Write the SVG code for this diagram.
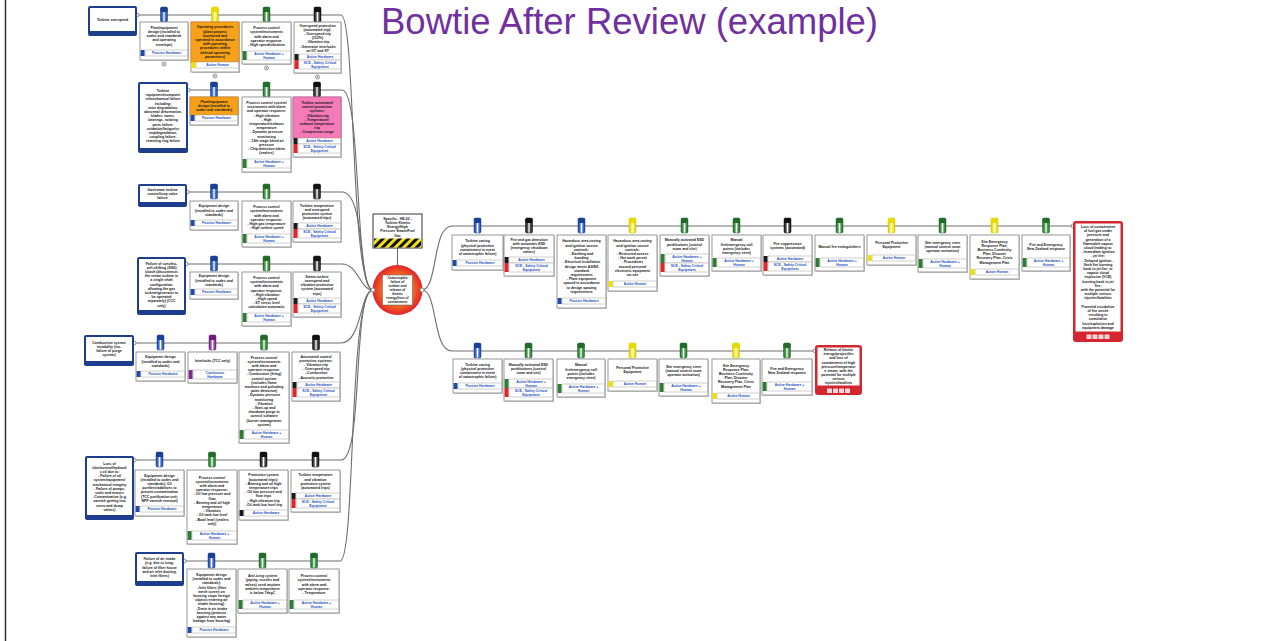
<svg xmlns="http://www.w3.org/2000/svg" width="1271" height="641" viewBox="0 0 1271 641">
<style>
.bx{fill:#fff;stroke:#7d7d7d;stroke-width:.8}
.sh{fill:#d2d2d2}
.cell{fill:#fff;stroke:#a0a0a0;stroke-width:.5}
.t{font-family:"Liberation Sans",Arial,sans-serif;font-size:3.5px;font-weight:bold;fill:#141414;text-anchor:middle}
.lb{font-family:"Liberation Sans",Arial,sans-serif;font-size:3.4px;font-weight:bold;fill:#1d4fc0;text-anchor:middle}
.ln{fill:none;stroke:#6e6e6e;stroke-width:1.1}
.thr{fill:#1d3d8f}
.in{fill:#fff}
.con{fill:#d3262f}
.sqP{fill:#1f4aa8}.sqK{fill:#1a1a1a}.sqG{fill:#2f7d35}.sqY{fill:#efe000}.sqR{fill:#e3242b}.sqV{fill:#7d2a8c}
.org{fill:#f7a11a;stroke:#e27c00;stroke-width:.6}
.pnk{fill:#f47ab8;stroke:#d94a98;stroke-width:.6}
.exp{fill:#fff;stroke:#555;stroke-width:.6}
.title{font-family:"Liberation Sans",Arial,sans-serif;font-size:36.5px;fill:#7030a0}
</style>
<defs>
<linearGradient id="gB" x1="0" x2="1" y1="0" y2="0"><stop offset="0" stop-color="#1b3f95"/><stop offset=".3" stop-color="#4a78d4"/><stop offset=".5" stop-color="#fff"/><stop offset=".7" stop-color="#4a78d4"/><stop offset="1" stop-color="#1b3f95"/></linearGradient>
<linearGradient id="gK" x1="0" x2="1" y1="0" y2="0"><stop offset="0" stop-color="#111"/><stop offset=".3" stop-color="#555"/><stop offset=".5" stop-color="#fff"/><stop offset=".7" stop-color="#555"/><stop offset="1" stop-color="#111"/></linearGradient>
<linearGradient id="gG" x1="0" x2="1" y1="0" y2="0"><stop offset="0" stop-color="#236b2a"/><stop offset=".3" stop-color="#4fa055"/><stop offset=".5" stop-color="#fff"/><stop offset=".7" stop-color="#4fa055"/><stop offset="1" stop-color="#236b2a"/></linearGradient>
<linearGradient id="gY" x1="0" x2="1" y1="0" y2="0"><stop offset="0" stop-color="#d8cc00"/><stop offset=".3" stop-color="#f5ec40"/><stop offset=".5" stop-color="#fffbd0"/><stop offset=".7" stop-color="#f5ec40"/><stop offset="1" stop-color="#d8cc00"/></linearGradient>
<linearGradient id="gV" x1="0" x2="1" y1="0" y2="0"><stop offset="0" stop-color="#6a1f7a"/><stop offset=".3" stop-color="#a855b8"/><stop offset=".5" stop-color="#fff"/><stop offset=".7" stop-color="#a855b8"/><stop offset="1" stop-color="#6a1f7a"/></linearGradient>
<radialGradient id="tev" cx=".5" cy=".5" r=".5"><stop offset="0" stop-color="#ffb040"/><stop offset=".55" stop-color="#f47a22"/><stop offset="1" stop-color="#e3222a"/></radialGradient>
<pattern id="haz" width="6" height="6" patternUnits="userSpaceOnUse" patternTransform="rotate(45)"><rect width="6" height="6" fill="#f3e01c"/><rect width="3" height="6" fill="#111"/></pattern>
<g id="tB"><rect x="-3.5" y="-8" width="7" height="15" rx="1.5" fill="url(#gB)" stroke="#1b3f95" stroke-width=".5"/><rect x="-3.5" y="-8" width="7" height="5" rx="1.5" fill="#1b3f95"/></g>
<g id="tK"><rect x="-3.5" y="-8" width="7" height="15" rx="1.5" fill="url(#gK)" stroke="#111" stroke-width=".5"/><rect x="-3.5" y="-8" width="7" height="5" rx="1.5" fill="#111"/></g>
<g id="tG"><rect x="-3.5" y="-8" width="7" height="15" rx="1.5" fill="url(#gG)" stroke="#236b2a" stroke-width=".5"/><rect x="-3.5" y="-8" width="7" height="5" rx="1.5" fill="#236b2a"/></g>
<g id="tY"><rect x="-3.5" y="-8" width="7" height="15" rx="1.5" fill="url(#gY)" stroke="#c8bc00" stroke-width=".5"/><rect x="-3.5" y="-8" width="7" height="5" rx="1.5" fill="#e6da00"/></g>
<g id="tV"><rect x="-3.5" y="-8" width="7" height="15" rx="1.5" fill="url(#gV)" stroke="#6a1f7a" stroke-width=".5"/><rect x="-3.5" y="-8" width="7" height="5" rx="1.5" fill="#6a1f7a"/></g>
<circle id="dot" r="2" fill="#fff" stroke="#777" stroke-width=".8"/>
</defs>
<rect width="1271" height="641" fill="#fff"/>
<line x1="5.5" y1="0" x2="5.5" y2="641" stroke="#333" stroke-width="1.5"/>
<text class="title" x="381" y="34">Bowtie After Review (example)</text>

<g id="connectors">
<path class="ln" d="M137,15 H341 C356,15 350,290 373,290"/>
<path class="ln" d="M188,90 H342 C362,90 354,290 373,290"/>
<path class="ln" d="M187,192 H342 C366,192 358,290 373,290"/>
<path class="ln" d="M186,264 H342 C358,264 360,290 373,290"/>
<path class="ln" d="M134,343 H341 C362,343 360,290 373,290"/>
<path class="ln" d="M134,460 H341 C364,460 352,290 373,290"/>
<path class="ln" d="M184,561 H340 C356,561 348,290 373,290"/>
<path class="ln" d="M422,290 C438,290 432,226 452,226 H1073"/>
<path class="ln" d="M422,290 C438,290 432,351 452,351 H815"/>
<path class="ln" d="M397.5,248 V266"/>
<use href="#dot" x="137" y="15"/><use href="#dot" x="188" y="90"/><use href="#dot" x="187" y="192"/><use href="#dot" x="186" y="264"/><use href="#dot" x="134" y="343"/><use href="#dot" x="134" y="460"/><use href="#dot" x="184" y="561"/>
<use href="#dot" x="1073" y="226"/><use href="#dot" x="815" y="351"/>
</g>

<!-- Hazard -->
<g id="hazard">
<rect x="373" y="214" width="49" height="34" fill="#fff" stroke="#333" stroke-width="1"/>
<rect x="374" y="238.5" width="47" height="9" fill="url(#haz)"/>
<text class="t" y="219.7"><tspan x="397.5">Specific - HE-02 -</tspan><tspan x="397.5" dy="4.2">Turbine Kinetic</tspan><tspan x="397.5" dy="4.2">Energy/High</tspan><tspan x="397.5" dy="4.2">Pressure Steam/Fuel</tspan><tspan x="397.5" dy="4.2">Gas</tspan></text>
</g>

<!-- Top event -->
<g id="topevent">
<circle cx="397.5" cy="290" r="25" fill="url(#tev)"/>
<rect x="382.5" y="275" width="30" height="30" fill="#fff" stroke="#555" stroke-width=".5"/>
<text class="t" y="279.4" style="font-size:3.3px"><tspan x="397.5">Catastrophic</tspan><tspan x="397.5" dy="3.9">failure of</tspan><tspan x="397.5" dy="3.9">turbine and</tspan><tspan x="397.5" dy="3.9">release of</tspan><tspan x="397.5" dy="3.9">kinetic</tspan><tspan x="397.5" dy="3.9">energy/loss of</tspan><tspan x="397.5" dy="3.9">containment</tspan></text>
<use href="#dot" x="373" y="290"/><use href="#dot" x="422" y="290"/>
</g>

<!-- ===== Row 1 ===== -->
<g id="t1">
<rect class="thr" x="88" y="6" width="49" height="30" rx="2"/><rect class="in" x="90" y="8" width="45" height="23"/>
<text class="t" x="112.5" y="20.6">Turbine overspeed</text>
</g>
<g id="b1-1">
<use href="#tB" x="164" y="15"/>
<rect class="sh" x="141" y="23" width="48" height="38"/><rect class="bx" x="140" y="22" width="48" height="38"/>
<text class="t" y="28.7"><tspan x="164">Plant/equipment</tspan><tspan x="164" dy="4.2">design (installed to</tspan><tspan x="164" dy="4.2">codes and standards</tspan><tspan x="164" dy="4.2">and operating</tspan><tspan x="164" dy="4.2">envelope)</tspan></text>
<rect class="sqP" x="140.6" y="50" width="4" height="6"/><rect class="cell" x="145" y="50" width="42.4" height="6"/><text class="lb" x="166.5" y="54.3">Passive Hardware</text>
<circle class="exp" cx="164" cy="64" r="2"/><circle cx="164" cy="64" r=".7" fill="#555"/>
</g>
<g id="b1-2">
<use href="#tY" x="215" y="15"/>
<rect class="sh" x="192" y="23" width="48" height="50"/><rect class="bx" x="191" y="22" width="48" height="50"/>
<rect class="org" x="191" y="22" width="48" height="40"/>
<text class="t" y="28.4"><tspan x="215">Operating procedures</tspan><tspan x="215" dy="4.2">(plant process</tspan><tspan x="215" dy="4.2">monitored and</tspan><tspan x="215" dy="4.2">operated in accordance</tspan><tspan x="215" dy="4.2">with operating</tspan><tspan x="215" dy="4.2">procedures within</tspan><tspan x="215" dy="4.2">defined operating</tspan><tspan x="215" dy="4.2">parameters)</tspan></text>
<rect class="sqY" x="191.6" y="62" width="4" height="6"/><rect class="cell" x="196" y="62" width="42.4" height="6"/><text class="lb" x="217.5" y="66.3">Active Human</text>
<circle class="exp" cx="215" cy="76" r="2"/><circle cx="215" cy="76" r=".7" fill="#555"/>
</g>
<g id="b1-3">
<use href="#tG" x="266.5" y="15"/>
<rect class="sh" x="243" y="23" width="49" height="42"/><rect class="bx" x="242" y="22" width="49" height="42"/>
<text class="t" y="29.2"><tspan x="266.5">Process control</tspan><tspan x="266.5" dy="4.2">system/instruments</tspan><tspan x="266.5" dy="4.2">with alarm and</tspan><tspan x="266.5" dy="4.2">operator response:</tspan><tspan x="266.5" dy="4.2">- High speed/vibration</tspan></text>
<rect class="sqG" x="242.6" y="51" width="4" height="9"/><rect class="cell" x="247" y="51" width="43.4" height="9"/><text class="lb" y="54.9"><tspan x="269">Active Hardware +</tspan><tspan x="269" dy="4">Human</tspan></text>
<circle class="exp" cx="266.5" cy="68" r="2"/><circle cx="266.5" cy="68" r=".7" fill="#555"/>
</g>
<g id="b1-4">
<use href="#tK" x="317.5" y="15"/>
<rect class="sh" x="295" y="23" width="47" height="51"/><rect class="bx" x="294" y="22" width="47" height="51"/>
<text class="t" y="26.5"><tspan x="317.5">Overspeed protection</tspan><tspan x="317.5" dy="4.2">(automated trip):</tspan><tspan x="317.5" dy="4.2">- Overspeed trip</tspan><tspan x="317.5" dy="4.2">(112%)</tspan><tspan x="317.5" dy="4.2">- Vibration trip</tspan><tspan x="317.5" dy="4.2">- Generator interlocks</tspan><tspan x="317.5" dy="4.2">on GT and ST</tspan></text>
<rect class="sqK" x="294.6" y="54" width="4" height="6"/><rect class="cell" x="299" y="54" width="41.4" height="6"/><text class="lb" x="320" y="58.3">Active Hardware</text>
<rect class="sqR" x="294.6" y="60" width="4" height="9"/><rect class="cell" x="299" y="60" width="41.4" height="9"/><text class="lb" y="63.9"><tspan x="320">SCE - Safety Critical</tspan><tspan x="320" dy="4">Equipment</tspan></text>
<circle class="exp" cx="317.5" cy="77" r="2"/><circle cx="317.5" cy="77" r=".7" fill="#555"/>
</g>

<!-- ===== Row 2 ===== -->
<g id="t2">
<rect class="thr" x="138" y="82" width="50" height="71" rx="2"/><rect class="in" x="140" y="84" width="46" height="64"/>
<text class="t" y="91.9"><tspan x="163">Turbine</tspan><tspan x="163" dy="4.2">equipment/compone</tspan><tspan x="163" dy="4.2">nt/mechanical failure</tspan><tspan x="163" dy="4.2">including:</tspan><tspan x="163" dy="4.2">rotor degradation,</tspan><tspan x="163" dy="4.2">abnormal deformation,</tspan><tspan x="163" dy="4.2">blades, vanes,</tspan><tspan x="163" dy="4.2">bearings, rotating</tspan><tspan x="163" dy="4.2">parts failure,</tspan><tspan x="163" dy="4.2">oxidation/fatigue/cr</tspan><tspan x="163" dy="4.2">eep/degradation,</tspan><tspan x="163" dy="4.2">coupling failure,</tspan><tspan x="163" dy="4.2">retaining ring failure</tspan></text>
</g>
<g id="b2-1">
<use href="#tB" x="214" y="90"/>
<rect class="sh" x="191" y="98" width="48" height="28"/><rect class="bx" x="190" y="97" width="48" height="28"/>
<rect class="org" x="190" y="97" width="48" height="18"/>
<text class="t" y="102.9"><tspan x="214">Plant/equipment</tspan><tspan x="214" dy="4.2">design (installed to</tspan><tspan x="214" dy="4.2">codes and standards)</tspan></text>
<rect class="sqP" x="190.6" y="115" width="4" height="6"/><rect class="cell" x="195" y="115" width="42.4" height="6"/><text class="lb" x="216.5" y="119.3">Passive Hardware</text>
</g>
<g id="b2-2">
<use href="#tG" x="266.5" y="90"/>
<rect class="sh" x="243" y="98" width="49" height="75"/><rect class="bx" x="242" y="97" width="49" height="75"/>
<text class="t" y="103.9"><tspan x="266.5">Process control system/</tspan><tspan x="266.5" dy="4.2">instruments with alarm</tspan><tspan x="266.5" dy="4.2">and operator response:</tspan><tspan x="266.5" dy="4.2">- High vibration</tspan><tspan x="266.5" dy="4.2">- High</tspan><tspan x="266.5" dy="4.2">temperature/exhaust</tspan><tspan x="266.5" dy="4.2">temperature</tspan><tspan x="266.5" dy="4.2">- Dynamic pressure</tspan><tspan x="266.5" dy="4.2">monitoring</tspan><tspan x="266.5" dy="4.2">- 13th stage bleed air</tspan><tspan x="266.5" dy="4.2">pressure</tspan><tspan x="266.5" dy="4.2">- Chip detection alarm</tspan><tspan x="266.5" dy="4.2">(sealers)</tspan></text>
<rect class="sqG" x="242.6" y="159" width="4" height="9"/><rect class="cell" x="247" y="159" width="43.4" height="9"/><text class="lb" y="162.9"><tspan x="269">Active Hardware +</tspan><tspan x="269" dy="4">Human</tspan></text>
</g>
<g id="b2-3">
<use href="#tK" x="317" y="90"/>
<rect class="sh" x="294" y="98" width="48" height="60"/><rect class="bx" x="293" y="97" width="48" height="60"/>
<rect class="pnk" x="293" y="97" width="48" height="41"/>
<text class="t" y="103.9"><tspan x="317">Turbine automated</tspan><tspan x="317" dy="4.2">control protection</tspan><tspan x="317" dy="4.2">systems:</tspan><tspan x="317" dy="4.2">- Vibration trip</tspan><tspan x="317" dy="4.2">- Temperature/</tspan><tspan x="317" dy="4.2">exhaust temperature</tspan><tspan x="317" dy="4.2">trip</tspan><tspan x="317" dy="4.2">- Compressor surge</tspan></text>
<rect class="sqK" x="293.6" y="138" width="4" height="6"/><rect class="cell" x="298" y="138" width="42.4" height="6"/><text class="lb" x="319.5" y="142.3">Active Hardware</text>
<rect class="sqR" x="293.6" y="144" width="4" height="9"/><rect class="cell" x="298" y="144" width="42.4" height="9"/><text class="lb" y="147.9"><tspan x="319.5">SCE - Safety Critical</tspan><tspan x="319.5" dy="4">Equipment</tspan></text>
</g>

<!-- ===== Row 3 ===== -->
<g id="t3">
<rect class="thr" x="138" y="184" width="49" height="23" rx="2"/><rect class="in" x="140" y="186" width="45" height="16"/>
<text class="t" y="190.9"><tspan x="162.5">Gas/steam turbine</tspan><tspan x="162.5" dy="4.2">control/stop valve</tspan><tspan x="162.5" dy="4.2">failure</tspan></text>
</g>
<g id="b3-1">
<use href="#tB" x="214" y="192"/>
<rect class="sh" x="191" y="202" width="48" height="29"/><rect class="bx" x="190" y="201" width="48" height="29"/>
<text class="t" y="207.4"><tspan x="214">Equipment design</tspan><tspan x="214" dy="4.2">(installed to codes and</tspan><tspan x="214" dy="4.2">standards)</tspan></text>
<rect class="sqP" x="190.6" y="220" width="4" height="6"/><rect class="cell" x="195" y="220" width="42.4" height="6"/><text class="lb" x="216.5" y="224.3">Passive Hardware</text>
</g>
<g id="b3-2">
<use href="#tG" x="266.5" y="192"/>
<rect class="sh" x="243" y="202" width="49" height="46"/><rect class="bx" x="242" y="201" width="49" height="46"/>
<text class="t" y="208.1"><tspan x="266.5">Process control</tspan><tspan x="266.5" dy="4.2">system/instruments</tspan><tspan x="266.5" dy="4.2">with alarm and</tspan><tspan x="266.5" dy="4.2">operator response:</tspan><tspan x="266.5" dy="4.2">- High gas temperature</tspan><tspan x="266.5" dy="4.2">- High turbine speed</tspan></text>
<rect class="sqG" x="242.6" y="234" width="4" height="9"/><rect class="cell" x="247" y="234" width="43.4" height="9"/><text class="lb" y="237.9"><tspan x="269">Active Hardware +</tspan><tspan x="269" dy="4">Human</tspan></text>
</g>
<g id="b3-3">
<use href="#tK" x="317" y="192"/>
<rect class="sh" x="294" y="202" width="48" height="41"/><rect class="bx" x="293" y="201" width="48" height="41"/>
<text class="t" y="206.8"><tspan x="317">Turbine temperature</tspan><tspan x="317" dy="4.2">and overspeed</tspan><tspan x="317" dy="4.2">protection system</tspan><tspan x="317" dy="4.2">(automated trips)</tspan></text>
<rect class="sqK" x="293.6" y="223" width="4" height="6"/><rect class="cell" x="298" y="223" width="42.4" height="6"/><text class="lb" x="319.5" y="227.3">Active Hardware</text>
<rect class="sqR" x="293.6" y="229" width="4" height="9"/><rect class="cell" x="298" y="229" width="42.4" height="9"/><text class="lb" y="232.9"><tspan x="319.5">SCE - Safety Critical</tspan><tspan x="319.5" dy="4">Equipment</tspan></text>
</g>

<!-- ===== Row 4 ===== -->
<g id="t4">
<rect class="thr" x="137" y="257" width="49" height="58" rx="2"/><rect class="in" x="139" y="259" width="45" height="51"/>
<text class="t" y="264.6"><tspan x="161.5">Failure of synchro-</tspan><tspan x="161.5" dy="4.2">self-shifting (SSS)</tspan><tspan x="161.5" dy="4.2">clutch (disconnects</tspan><tspan x="161.5" dy="4.2">the steam turbine in</tspan><tspan x="161.5" dy="4.2">a single shaft</tspan><tspan x="161.5" dy="4.2">configuration,</tspan><tspan x="161.5" dy="4.2">allowing the gas</tspan><tspan x="161.5" dy="4.2">turbine/generator to</tspan><tspan x="161.5" dy="4.2">be operated</tspan><tspan x="161.5" dy="4.2">separately) (CCC</tspan><tspan x="161.5" dy="4.2">only)</tspan></text>
</g>
<g id="b4-1">
<use href="#tB" x="214" y="264"/>
<rect class="sh" x="191" y="273" width="48" height="27"/><rect class="bx" x="190" y="272" width="48" height="27"/>
<text class="t" y="277.4"><tspan x="214">Equipment design</tspan><tspan x="214" dy="4.2">(installed to codes and</tspan><tspan x="214" dy="4.2">standards)</tspan></text>
<rect class="sqP" x="190.6" y="289" width="4" height="6"/><rect class="cell" x="195" y="289" width="42.4" height="6"/><text class="lb" x="216.5" y="293.3">Passive Hardware</text>
</g>
<g id="b4-2">
<use href="#tG" x="266.5" y="264"/>
<rect class="sh" x="243" y="273" width="49" height="54"/><rect class="bx" x="242" y="272" width="49" height="54"/>
<text class="t" y="278.9"><tspan x="266.5">Process control</tspan><tspan x="266.5" dy="4.2">system/instruments</tspan><tspan x="266.5" dy="4.2">with alarm and</tspan><tspan x="266.5" dy="4.2">operator response:</tspan><tspan x="266.5" dy="4.2">- High vibration</tspan><tspan x="266.5" dy="4.2">- High speed</tspan><tspan x="266.5" dy="4.2">- ST stress level</tspan><tspan x="266.5" dy="4.2">calculation automatic</tspan></text>
<rect class="sqG" x="242.6" y="313" width="4" height="9"/><rect class="cell" x="247" y="313" width="43.4" height="9"/><text class="lb" y="316.9"><tspan x="269">Active Hardware +</tspan><tspan x="269" dy="4">Human</tspan></text>
</g>
<g id="b4-3">
<use href="#tK" x="317" y="264"/>
<rect class="sh" x="294" y="273" width="48" height="45"/><rect class="bx" x="293" y="272" width="48" height="45"/>
<text class="t" y="277.7"><tspan x="317">Steam turbine</tspan><tspan x="317" dy="4.2">overspeed and</tspan><tspan x="317" dy="4.2">vibration protection</tspan><tspan x="317" dy="4.2">system (automated</tspan><tspan x="317" dy="4.2">trips)</tspan></text>
<rect class="sqK" x="293.6" y="298" width="4" height="6"/><rect class="cell" x="298" y="298" width="42.4" height="6"/><text class="lb" x="319.5" y="302.3">Active Hardware</text>
<rect class="sqR" x="293.6" y="304" width="4" height="9"/><rect class="cell" x="298" y="304" width="42.4" height="9"/><text class="lb" y="307.9"><tspan x="319.5">SCE - Safety Critical</tspan><tspan x="319.5" dy="4">Equipment</tspan></text>
</g>

<!-- ===== Row 5 ===== -->
<g id="t5">
<rect class="thr" x="84" y="335" width="50" height="31" rx="2"/><rect class="in" x="86" y="337" width="46" height="24"/>
<text class="t" y="343.8"><tspan x="109">Combustion system</tspan><tspan x="109" dy="4.2">instability (inc.</tspan><tspan x="109" dy="4.2">failure of purge</tspan><tspan x="109" dy="4.2">system)</tspan></text>
</g>
<g id="b5-1">
<use href="#tB" x="160.5" y="343"/>
<rect class="sh" x="137" y="353" width="49" height="29"/><rect class="bx" x="136" y="352" width="49" height="29"/>
<text class="t" y="358.4"><tspan x="160.5">Equipment design</tspan><tspan x="160.5" dy="4.2">(installed to codes and</tspan><tspan x="160.5" dy="4.2">standards)</tspan></text>
<rect class="sqP" x="136.6" y="371" width="4" height="6"/><rect class="cell" x="141" y="371" width="43.4" height="6"/><text class="lb" x="163" y="375.3">Passive Hardware</text>
</g>
<g id="b5-2">
<use href="#tV" x="212.5" y="343"/>
<rect class="sh" x="189" y="353" width="49" height="31"/><rect class="bx" x="188" y="352" width="49" height="31"/>
<text class="t" x="212.5" y="362.1">Interlocks (TCC only)</text>
<rect class="sqV" x="188.6" y="370" width="4" height="9"/><rect class="cell" x="193" y="370" width="43.4" height="9"/><text class="lb" y="373.9"><tspan x="215">Continuous</tspan><tspan x="215" dy="4">Hardware</tspan></text>
</g>
<g id="b5-3">
<use href="#tG" x="264" y="343"/>
<rect class="sh" x="240" y="353" width="50" height="91"/><rect class="bx" x="239" y="352" width="50" height="91"/>
<text class="t" y="358.5"><tspan x="264">Process control</tspan><tspan x="264" dy="4.2">system/instruments</tspan><tspan x="264" dy="4.2">with alarm and</tspan><tspan x="264" dy="4.2">operator response:</tspan><tspan x="264" dy="4.2">- Combustion (firing)</tspan><tspan x="264" dy="4.2">control system</tspan><tspan x="264" dy="4.2">(includes flame</tspan><tspan x="264" dy="4.2">monitors and pulsating</tspan><tspan x="264" dy="4.2">point detection)</tspan><tspan x="264" dy="4.2">- Dynamic pressure</tspan><tspan x="264" dy="4.2">monitoring</tspan><tspan x="264" dy="4.2">- Vibration</tspan><tspan x="264" dy="4.2">- Start-up and</tspan><tspan x="264" dy="4.2">shutdown purge to</tspan><tspan x="264" dy="4.2">control software</tspan><tspan x="264" dy="4.2">(burner management</tspan><tspan x="264" dy="4.2">system)</tspan></text>
<rect class="sqG" x="239.6" y="430" width="4" height="9"/><rect class="cell" x="244" y="430" width="44.4" height="9"/><text class="lb" y="433.9"><tspan x="266.5">Active Hardware +</tspan><tspan x="266.5" dy="4">Human</tspan></text>
</g>
<g id="b5-4">
<use href="#tK" x="316" y="343"/>
<rect class="sh" x="293" y="353" width="48" height="49"/><rect class="bx" x="292" y="352" width="48" height="49"/>
<text class="t" y="357.6"><tspan x="316">Automated control</tspan><tspan x="316" dy="4.2">protection systems:</tspan><tspan x="316" dy="4.2">- Vibration trip</tspan><tspan x="316" dy="4.2">- Overspeed trip</tspan><tspan x="316" dy="4.2">- Combustion</tspan><tspan x="316" dy="4.2">- Acoustic protection</tspan></text>
<rect class="sqK" x="292.6" y="382" width="4" height="6"/><rect class="cell" x="297" y="382" width="42.4" height="6"/><text class="lb" x="318.5" y="386.3">Active Hardware</text>
<rect class="sqR" x="292.6" y="388" width="4" height="9"/><rect class="cell" x="297" y="388" width="42.4" height="9"/><text class="lb" y="391.9"><tspan x="318.5">SCE - Safety Critical</tspan><tspan x="318.5" dy="4">Equipment</tspan></text>
</g>

<!-- ===== Row 6 ===== -->
<g id="t6">
<rect class="thr" x="85" y="456" width="49" height="64" rx="2"/><rect class="in" x="87" y="458" width="45" height="57"/>
<text class="t" y="464.5"><tspan x="109.5">Loss of</tspan><tspan x="109.5" dy="4.2">lube/control/hydrauli</tspan><tspan x="109.5" dy="4.2">c oil due to:</tspan><tspan x="109.5" dy="4.2">- Failure of oil</tspan><tspan x="109.5" dy="4.2">system/equipment/</tspan><tspan x="109.5" dy="4.2">mechanical integrity</tspan><tspan x="109.5" dy="4.2">- Failure of pumps,</tspan><tspan x="109.5" dy="4.2">seals and motors</tspan><tspan x="109.5" dy="4.2">- Contamination (e.g.</tspan><tspan x="109.5" dy="4.2">varnish getting into</tspan><tspan x="109.5" dy="4.2">servo and dump</tspan><tspan x="109.5" dy="4.2">valves)</tspan></text>
</g>
<g id="b6-1">
<use href="#tB" x="159.5" y="460"/>
<rect class="sh" x="136" y="471" width="49" height="46"/><rect class="bx" x="135" y="470" width="49" height="46"/>
<text class="t" y="476.5"><tspan x="159.5">Equipment design</tspan><tspan x="159.5" dy="4.2">(installed to codes and</tspan><tspan x="159.5" dy="4.2">standards). Oil</tspan><tspan x="159.5" dy="4.2">purifiers/additives to</tspan><tspan x="159.5" dy="4.2">prevent contamination</tspan><tspan x="159.5" dy="4.2">(TCC purification unit;</tspan><tspan x="159.5" dy="4.2">NPP varnish removal)</tspan></text>
<rect class="sqP" x="135.6" y="506" width="4" height="6"/><rect class="cell" x="140" y="506" width="43.4" height="6"/><text class="lb" x="162" y="510.3">Passive Hardware</text>
</g>
<g id="b6-2">
<use href="#tG" x="212" y="460"/>
<rect class="sh" x="188" y="471" width="50" height="74"/><rect class="bx" x="187" y="470" width="50" height="74"/>
<text class="t" y="478.5"><tspan x="212">Process control</tspan><tspan x="212" dy="4.2">system/instruments</tspan><tspan x="212" dy="4.2">with alarm and</tspan><tspan x="212" dy="4.2">operator response:</tspan><tspan x="212" dy="4.2">- Oil low pressure and</tspan><tspan x="212" dy="4.2">flow</tspan><tspan x="212" dy="4.2">- Bearing and oil high</tspan><tspan x="212" dy="4.2">temperature</tspan><tspan x="212" dy="4.2">- Vibration</tspan><tspan x="212" dy="4.2">- Oil tank low level</tspan><tspan x="212" dy="4.2">- Bowl level (sealers</tspan><tspan x="212" dy="4.2">only)</tspan></text>
<rect class="sqG" x="187.6" y="531" width="4" height="9"/><rect class="cell" x="192" y="531" width="44.4" height="9"/><text class="lb" y="534.9"><tspan x="214.5">Active Hardware +</tspan><tspan x="214.5" dy="4">Human</tspan></text>
</g>
<g id="b6-3">
<use href="#tK" x="263.5" y="460"/>
<rect class="sh" x="240" y="471" width="49" height="50"/><rect class="bx" x="239" y="470" width="49" height="50"/>
<text class="t" y="476.4"><tspan x="263.5">Protection system</tspan><tspan x="263.5" dy="4.2">(automated trips):</tspan><tspan x="263.5" dy="4.2">- Bearing and oil high</tspan><tspan x="263.5" dy="4.2">temperature trips</tspan><tspan x="263.5" dy="4.2">- Oil low pressure and</tspan><tspan x="263.5" dy="4.2">flow trips</tspan><tspan x="263.5" dy="4.2">- High vibration trip</tspan><tspan x="263.5" dy="4.2">- Oil tank low level trip</tspan></text>
<rect class="sqK" x="239.6" y="510" width="4" height="6"/><rect class="cell" x="244" y="510" width="43.4" height="6"/><text class="lb" x="266" y="514.3">Active Hardware</text>
</g>
<g id="b6-4">
<use href="#tK" x="315.5" y="460"/>
<rect class="sh" x="292" y="471" width="49" height="42"/><rect class="bx" x="291" y="470" width="49" height="42"/>
<text class="t" y="476.3"><tspan x="315.5">Turbine temperature</tspan><tspan x="315.5" dy="4.2">and vibration</tspan><tspan x="315.5" dy="4.2">protection system</tspan><tspan x="315.5" dy="4.2">(automated trips)</tspan></text>
<rect class="sqK" x="291.6" y="493" width="4" height="6"/><rect class="cell" x="296" y="493" width="43.4" height="6"/><text class="lb" x="318" y="497.3">Active Hardware</text>
<rect class="sqR" x="291.6" y="499" width="4" height="9"/><rect class="cell" x="296" y="499" width="43.4" height="9"/><text class="lb" y="502.9"><tspan x="318">SCE - Safety Critical</tspan><tspan x="318" dy="4">Equipment</tspan></text>
</g>

<!-- ===== Row 7 ===== -->
<g id="t7">
<rect class="thr" x="135" y="552" width="49" height="34" rx="2"/><rect class="in" x="137" y="554" width="45" height="27"/>
<text class="t" y="560.2"><tspan x="159.5">Failure of air intake</tspan><tspan x="159.5" dy="4.2">(e.g. due to icing,</tspan><tspan x="159.5" dy="4.2">failure of filter house</tspan><tspan x="159.5" dy="4.2">and air inlet ducting,</tspan><tspan x="159.5" dy="4.2">inlet filters)</tspan></text>
</g>
<g id="b7-1">
<use href="#tB" x="211.5" y="561"/>
<rect class="sh" x="188" y="570" width="49" height="68"/><rect class="bx" x="187" y="569" width="49" height="68"/>
<text class="t" y="576"><tspan x="211.5">Equipment design</tspan><tspan x="211.5" dy="4.2">(installed to codes and</tspan><tspan x="211.5" dy="4.2">standards):</tspan><tspan x="211.5" dy="4.2">- Inlet filters (filter</tspan><tspan x="211.5" dy="4.2">mesh screen on</tspan><tspan x="211.5" dy="4.2">housing stops foreign</tspan><tspan x="211.5" dy="4.2">objects entering air</tspan><tspan x="211.5" dy="4.2">intake housing).</tspan><tspan x="211.5" dy="4.2">- Drain in air intake</tspan><tspan x="211.5" dy="4.2">housing (protects</tspan><tspan x="211.5" dy="4.2">against any water</tspan><tspan x="211.5" dy="4.2">leakage from housing)</tspan></text>
<rect class="sqP" x="187.6" y="627" width="4" height="6"/><rect class="cell" x="192" y="627" width="43.4" height="6"/><text class="lb" x="214" y="631.3">Passive Hardware</text>
</g>
<g id="b7-2">
<use href="#tG" x="262.5" y="561"/>
<rect class="sh" x="239" y="570" width="49" height="44"/><rect class="bx" x="238" y="569" width="49" height="44"/>
<text class="t" y="577.2"><tspan x="262.5">Anti-icing system</tspan><tspan x="262.5" dy="4.2">(piping, nozzles and</tspan><tspan x="262.5" dy="4.2">valves) used anytime</tspan><tspan x="262.5" dy="4.2">ambient temperature</tspan><tspan x="262.5" dy="4.2">is below 7degC</tspan></text>
<rect class="sqG" x="238.6" y="600" width="4" height="9"/><rect class="cell" x="243" y="600" width="43.4" height="9"/><text class="lb" y="603.9"><tspan x="265">Active Hardware +</tspan><tspan x="265" dy="4">Human</tspan></text>
</g>
<g id="b7-3">
<use href="#tG" x="314" y="561"/>
<rect class="sh" x="290" y="570" width="50" height="44"/><rect class="bx" x="289" y="569" width="50" height="44"/>
<text class="t" y="577.2"><tspan x="314">Process control</tspan><tspan x="314" dy="4.2">system/instruments</tspan><tspan x="314" dy="4.2">with alarm and</tspan><tspan x="314" dy="4.2">operator response:</tspan><tspan x="314" dy="4.2">- Temperature</tspan></text>
<rect class="sqG" x="289.6" y="600" width="4" height="9"/><rect class="cell" x="294" y="600" width="44.4" height="9"/><text class="lb" y="603.9"><tspan x="316.5">Active Hardware +</tspan><tspan x="316.5" dy="4">Human</tspan></text>
</g>

<!-- ===== Right upper row ===== -->
<g id="r1">
<use href="#tB" x="477.5" y="226"/>
<rect class="sh" x="453" y="236" width="51" height="35"/><rect class="bx" x="452" y="235" width="51" height="35"/>
<text class="t" y="242.3"><tspan x="477.5">Turbine casing</tspan><tspan x="477.5" dy="4.2">(physical protective</tspan><tspan x="477.5" dy="4.2">containment in event</tspan><tspan x="477.5" dy="4.2">of catastrophic failure)</tspan></text>
<rect class="sqP" x="452.6" y="260" width="4" height="6"/><rect class="cell" x="457" y="260" width="45.4" height="6"/><text class="lb" x="480" y="264.3">Passive Hardware</text>
</g>
<g id="r2">
<use href="#tK" x="529" y="226"/>
<rect class="sh" x="505" y="236" width="50" height="41"/><rect class="bx" x="504" y="235" width="50" height="41"/>
<text class="t" y="240.8"><tspan x="529">Fire and gas detection</tspan><tspan x="529" dy="4.2">with automatic ESD</tspan><tspan x="529" dy="4.2">(emergency shutdown</tspan><tspan x="529" dy="4.2">valves)</tspan></text>
<rect class="sqK" x="504.6" y="257" width="4" height="6"/><rect class="cell" x="509" y="257" width="44.4" height="6"/><text class="lb" x="531.5" y="261.3">Active Hardware</text>
<rect class="sqR" x="504.6" y="263" width="4" height="9"/><rect class="cell" x="509" y="263" width="44.4" height="9"/><text class="lb" y="266.9"><tspan x="531.5">SCE - Safety Critical</tspan><tspan x="531.5" dy="4">Equipment</tspan></text>
</g>
<g id="r3">
<use href="#tB" x="581.5" y="226"/>
<rect class="sh" x="558" y="236" width="49" height="73"/><rect class="bx" x="557" y="235" width="49" height="73"/>
<text class="t" y="242.4"><tspan x="581.5">Hazardous area zoning</tspan><tspan x="581.5" dy="4.2">and ignition source</tspan><tspan x="581.5" dy="4.2">controls:</tspan><tspan x="581.5" dy="4.2">- Earthing and</tspan><tspan x="581.5" dy="4.2">bonding</tspan><tspan x="581.5" dy="4.2">- Electrical installation</tspan><tspan x="581.5" dy="4.2">design meets AS/NZ</tspan><tspan x="581.5" dy="4.2">standard</tspan><tspan x="581.5" dy="4.2">requirements</tspan><tspan x="581.5" dy="4.2">- Plant equipment</tspan><tspan x="581.5" dy="4.2">spaced in accordance</tspan><tspan x="581.5" dy="4.2">to design spacing</tspan><tspan x="581.5" dy="4.2">requirements</tspan></text>
<rect class="sqP" x="557.6" y="298" width="4" height="6"/><rect class="cell" x="562" y="298" width="43.4" height="6"/><text class="lb" x="584" y="302.3">Passive Hardware</text>
</g>
<g id="r4">
<use href="#tY" x="632.5" y="226"/>
<rect class="sh" x="609" y="236" width="49" height="56"/><rect class="bx" x="608" y="235" width="49" height="56"/>
<text class="t" y="242.3"><tspan x="632.5">Hazardous area zoning</tspan><tspan x="632.5" dy="4.2">and ignition source</tspan><tspan x="632.5" dy="4.2">controls:</tspan><tspan x="632.5" dy="4.2">- Restricted access</tspan><tspan x="632.5" dy="4.2">- Hot work permit</tspan><tspan x="632.5" dy="4.2">- Procedures</tspan><tspan x="632.5" dy="4.2">around personal</tspan><tspan x="632.5" dy="4.2">electronic equipment</tspan><tspan x="632.5" dy="4.2">on-site</tspan></text>
<rect class="sqY" x="608.6" y="281" width="4" height="6"/><rect class="cell" x="613" y="281" width="43.4" height="6"/><text class="lb" x="635" y="285.3">Active Human</text>
</g>
<g id="r5">
<use href="#tG" x="684.5" y="226"/>
<rect class="sh" x="661" y="236" width="49" height="41"/><rect class="bx" x="660" y="235" width="49" height="41"/>
<text class="t" y="241.4"><tspan x="684.5">Manually activated ESD</tspan><tspan x="684.5" dy="4.2">pushbuttons (control</tspan><tspan x="684.5" dy="4.2">room and site)</tspan></text>
<rect class="sqG" x="660.6" y="254" width="4" height="9"/><rect class="cell" x="665" y="254" width="43.4" height="9"/><text class="lb" y="257.9"><tspan x="687">Active Hardware +</tspan><tspan x="687" dy="4">Human</tspan></text>
<rect class="sqR" x="660.6" y="263" width="4" height="9"/><rect class="cell" x="665" y="263" width="43.4" height="9"/><text class="lb" y="266.9"><tspan x="687">SCE - Safety Critical</tspan><tspan x="687" dy="4">Equipment</tspan></text>
</g>
<g id="r6">
<use href="#tG" x="736.5" y="226"/>
<rect class="sh" x="713" y="236" width="49" height="36"/><rect class="bx" x="712" y="235" width="49" height="36"/>
<text class="t" y="241.3"><tspan x="736.5">Manual</tspan><tspan x="736.5" dy="4.2">fire/emergency call</tspan><tspan x="736.5" dy="4.2">points (includes</tspan><tspan x="736.5" dy="4.2">emergency siren)</tspan></text>
<rect class="sqG" x="712.6" y="258" width="4" height="9"/><rect class="cell" x="717" y="258" width="43.4" height="9"/><text class="lb" y="261.9"><tspan x="739">Active Hardware +</tspan><tspan x="739" dy="4">Human</tspan></text>
</g>
<g id="r7">
<use href="#tK" x="787.5" y="226"/>
<rect class="sh" x="764" y="236" width="49" height="40"/><rect class="bx" x="763" y="235" width="49" height="40"/>
<text class="t" y="244.5"><tspan x="787.5">Fire suppression</tspan><tspan x="787.5" dy="4.2">systems (automated)</tspan></text>
<rect class="sqK" x="763.6" y="256" width="4" height="6"/><rect class="cell" x="768" y="256" width="43.4" height="6"/><text class="lb" x="790" y="260.3">Active Hardware</text>
<rect class="sqR" x="763.6" y="262" width="4" height="9"/><rect class="cell" x="768" y="262" width="43.4" height="9"/><text class="lb" y="265.9"><tspan x="790">SCE - Safety Critical</tspan><tspan x="790" dy="4">Equipment</tspan></text>
</g>
<g id="r8">
<use href="#tG" x="839.5" y="226"/>
<rect class="sh" x="816" y="236" width="49" height="36"/><rect class="bx" x="815" y="235" width="49" height="36"/>
<text class="t" x="839.5" y="247.6">Manual fire extinguishers</text>
<rect class="sqG" x="815.6" y="258" width="4" height="9"/><rect class="cell" x="820" y="258" width="43.4" height="9"/><text class="lb" y="261.9"><tspan x="842">Active Hardware +</tspan><tspan x="842" dy="4">Human</tspan></text>
</g>
<g id="r9">
<use href="#tY" x="891.5" y="226"/>
<rect class="sh" x="868" y="236" width="49" height="30"/><rect class="bx" x="867" y="235" width="49" height="30"/>
<text class="t" y="244"><tspan x="891.5">Personal Protective</tspan><tspan x="891.5" dy="4.2">Equipment</tspan></text>
<rect class="sqY" x="867.6" y="255" width="4" height="6"/><rect class="cell" x="872" y="255" width="43.4" height="6"/><text class="lb" x="894" y="259.3">Active Human</text>
</g>
<g id="r10">
<use href="#tG" x="942.5" y="226"/>
<rect class="sh" x="919" y="236" width="49" height="37"/><rect class="bx" x="918" y="235" width="49" height="37"/>
<text class="t" y="243.9"><tspan x="942.5">Site emergency siren</tspan><tspan x="942.5" dy="4.2">(manual control room</tspan><tspan x="942.5" dy="4.2">operator activation)</tspan></text>
<rect class="sqG" x="918.6" y="259" width="4" height="9"/><rect class="cell" x="923" y="259" width="43.4" height="9"/><text class="lb" y="262.9"><tspan x="945">Active Hardware +</tspan><tspan x="945" dy="4">Human</tspan></text>
</g>
<g id="r11">
<use href="#tY" x="994.5" y="226"/>
<rect class="sh" x="971" y="236" width="49" height="44"/><rect class="bx" x="970" y="235" width="49" height="44"/>
<text class="t" y="242.6"><tspan x="994.5">Site Emergency</tspan><tspan x="994.5" dy="4.2">Response Plan,</tspan><tspan x="994.5" dy="4.2">Business Continuity</tspan><tspan x="994.5" dy="4.2">Plan, Disaster</tspan><tspan x="994.5" dy="4.2">Recovery Plan, Crisis</tspan><tspan x="994.5" dy="4.2">Management Plan</tspan></text>
<rect class="sqY" x="970.6" y="269" width="4" height="6"/><rect class="cell" x="975" y="269" width="43.4" height="6"/><text class="lb" x="997" y="273.3">Active Human</text>
</g>
<g id="r12">
<use href="#tG" x="1046" y="226"/>
<rect class="sh" x="1023" y="236" width="48" height="36"/><rect class="bx" x="1022" y="235" width="48" height="36"/>
<text class="t" y="245.5"><tspan x="1046">Fire and Emergency</tspan><tspan x="1046" dy="4.2">New Zealand response</tspan></text>
<rect class="sqG" x="1022.6" y="258" width="4" height="9"/><rect class="cell" x="1027" y="258" width="42.4" height="9"/><text class="lb" y="261.9"><tspan x="1048.5">Active Hardware +</tspan><tspan x="1048.5" dy="4">Human</tspan></text>
</g>
<g id="c1">
<rect class="con" x="1073" y="221" width="50" height="121" rx="3"/>
<rect class="in" x="1075.5" y="223.5" width="45" height="108"/>
<rect x="1086.5" y="334.5" width="5" height="4.5" fill="#f5d5d7"/><rect x="1092.5" y="334.5" width="5" height="4.5" fill="#f5d5d7"/><rect x="1098.5" y="334.5" width="5" height="4.5" fill="#f5d5d7"/><rect x="1104.5" y="334.5" width="5" height="4.5" fill="#f5d5d7"/>
<text class="t" y="228"><tspan x="1098">Loss of containment</tspan><tspan x="1098" dy="4.2">of fuel gas under</tspan><tspan x="1098" dy="4.2">pressure and</tspan><tspan x="1098" dy="4.2">generation of a</tspan><tspan x="1098" dy="4.2">flammable vapour</tspan><tspan x="1098" dy="4.2">cloud leading to:</tspan><tspan x="1098" dy="4.2">- Immediate ignition</tspan><tspan x="1098" dy="4.2">- jet fire;</tspan><tspan x="1098" dy="4.2">- Delayed ignition -</tspan><tspan x="1098" dy="4.2">flash fire burning</tspan><tspan x="1098" dy="4.2">back to jet fire; or</tspan><tspan x="1098" dy="4.2">vapour cloud</tspan><tspan x="1098" dy="4.2">explosion (VCE)</tspan><tspan x="1098" dy="4.2">burning back to jet</tspan><tspan x="1098" dy="4.2">fire;</tspan><tspan x="1098" dy="4.2">with the potential for</tspan><tspan x="1098" dy="4.2">multiple serious</tspan><tspan x="1098" dy="4.2">injuries/fatalities</tspan><tspan x="1098" dy="8.4">Potential escalation</tspan><tspan x="1098" dy="4.2">of fire onsite</tspan><tspan x="1098" dy="4.2">resulting in</tspan><tspan x="1098" dy="4.2">cumulative</tspan><tspan x="1098" dy="4.2">loss/explosion and</tspan><tspan x="1098" dy="4.2">equipment damage</tspan></text>
</g>

<!-- ===== Right lower row ===== -->
<g id="l1">
<use href="#tB" x="477.5" y="351"/>
<rect class="sh" x="454" y="360" width="49" height="34"/><rect class="bx" x="453" y="359" width="49" height="34"/>
<text class="t" y="365.8"><tspan x="477.5">Turbine casing</tspan><tspan x="477.5" dy="4.2">(physical protective</tspan><tspan x="477.5" dy="4.2">containment in event</tspan><tspan x="477.5" dy="4.2">of catastrophic failure)</tspan></text>
<rect class="sqP" x="453.6" y="383" width="4" height="6"/><rect class="cell" x="458" y="383" width="43.4" height="6"/><text class="lb" x="480" y="387.3">Passive Hardware</text>
</g>
<g id="l2">
<use href="#tG" x="528.5" y="351"/>
<rect class="sh" x="505" y="360" width="49" height="42"/><rect class="bx" x="504" y="359" width="49" height="42"/>
<text class="t" y="365.9"><tspan x="528.5">Manually activated ESD</tspan><tspan x="528.5" dy="4.2">pushbuttons (control</tspan><tspan x="528.5" dy="4.2">room and site)</tspan></text>
<rect class="sqG" x="504.6" y="379" width="4" height="9"/><rect class="cell" x="509" y="379" width="43.4" height="9"/><text class="lb" y="382.9"><tspan x="531">Active Hardware +</tspan><tspan x="531" dy="4">Human</tspan></text>
<rect class="sqR" x="504.6" y="388" width="4" height="9"/><rect class="cell" x="509" y="388" width="43.4" height="9"/><text class="lb" y="391.9"><tspan x="531">SCE - Safety Critical</tspan><tspan x="531" dy="4">Equipment</tspan></text>
</g>
<g id="l3">
<use href="#tG" x="581" y="351"/>
<rect class="sh" x="558" y="360" width="48" height="38"/><rect class="bx" x="557" y="359" width="48" height="38"/>
<text class="t" y="366.3"><tspan x="581">Manual</tspan><tspan x="581" dy="4.2">fire/emergency call</tspan><tspan x="581" dy="4.2">points (includes</tspan><tspan x="581" dy="4.2">emergency siren)</tspan></text>
<rect class="sqG" x="557.6" y="384" width="4" height="9"/><rect class="cell" x="562" y="384" width="42.4" height="9"/><text class="lb" y="387.9"><tspan x="583.5">Active Hardware +</tspan><tspan x="583.5" dy="4">Human</tspan></text>
</g>
<g id="l4">
<use href="#tY" x="632.5" y="351"/>
<rect class="sh" x="609" y="360" width="49" height="32"/><rect class="bx" x="608" y="359" width="49" height="32"/>
<text class="t" y="369"><tspan x="632.5">Personal Protective</tspan><tspan x="632.5" dy="4.2">Equipment</tspan></text>
<rect class="sqY" x="608.6" y="381" width="4" height="6"/><rect class="cell" x="613" y="381" width="43.4" height="6"/><text class="lb" x="635" y="385.3">Active Human</text>
</g>
<g id="l5">
<use href="#tG" x="683.5" y="351"/>
<rect class="sh" x="660" y="360" width="49" height="37"/><rect class="bx" x="659" y="359" width="49" height="37"/>
<text class="t" y="367.9"><tspan x="683.5">Site emergency siren</tspan><tspan x="683.5" dy="4.2">(manual control room</tspan><tspan x="683.5" dy="4.2">operator activation)</tspan></text>
<rect class="sqG" x="659.6" y="383" width="4" height="9"/><rect class="cell" x="664" y="383" width="43.4" height="9"/><text class="lb" y="386.9"><tspan x="686">Active Hardware +</tspan><tspan x="686" dy="4">Human</tspan></text>
</g>
<g id="l6">
<use href="#tY" x="736" y="351"/>
<rect class="sh" x="713" y="360" width="48" height="44"/><rect class="bx" x="712" y="359" width="48" height="44"/>
<text class="t" y="366.6"><tspan x="736">Site Emergency</tspan><tspan x="736" dy="4.2">Response Plan,</tspan><tspan x="736" dy="4.2">Business Continuity</tspan><tspan x="736" dy="4.2">Plan, Disaster</tspan><tspan x="736" dy="4.2">Recovery Plan, Crisis</tspan><tspan x="736" dy="4.2">Management Plan</tspan></text>
<rect class="sqY" x="712.6" y="393" width="4" height="6"/><rect class="cell" x="717" y="393" width="42.4" height="6"/><text class="lb" x="738.5" y="397.3">Active Human</text>
</g>
<g id="l7">
<use href="#tG" x="787" y="351"/>
<rect class="sh" x="763" y="360" width="50" height="36"/><rect class="bx" x="762" y="359" width="50" height="36"/>
<text class="t" y="369.5"><tspan x="787">Fire and Emergency</tspan><tspan x="787" dy="4.2">New Zealand response</tspan></text>
<rect class="sqG" x="762.6" y="382" width="4" height="9"/><rect class="cell" x="767" y="382" width="44.4" height="9"/><text class="lb" y="385.9"><tspan x="789.5">Active Hardware +</tspan><tspan x="789.5" dy="4">Human</tspan></text>
</g>
<g id="c2">
<rect class="con" x="815" y="345" width="47" height="50" rx="3"/>
<rect class="in" x="817.5" y="347.5" width="42" height="38"/>
<rect x="827" y="388.5" width="5" height="4.5" fill="#f5d5d7"/><rect x="833" y="388.5" width="5" height="4.5" fill="#f5d5d7"/><rect x="839" y="388.5" width="5" height="4.5" fill="#f5d5d7"/><rect x="845" y="388.5" width="5" height="4.5" fill="#f5d5d7"/>
<text class="t" y="351.2"><tspan x="838.5">Release of kinetic</tspan><tspan x="838.5" dy="4.1">energy/projectiles</tspan><tspan x="838.5" dy="4.1">and loss of</tspan><tspan x="838.5" dy="4.1">containment of high</tspan><tspan x="838.5" dy="4.1">pressure/temperatur</tspan><tspan x="838.5" dy="4.1">e steam; with the</tspan><tspan x="838.5" dy="4.1">potential for multiple</tspan><tspan x="838.5" dy="4.1">serious</tspan><tspan x="838.5" dy="4.1">injuries/fatalities</tspan></text>
</g>
</svg>
